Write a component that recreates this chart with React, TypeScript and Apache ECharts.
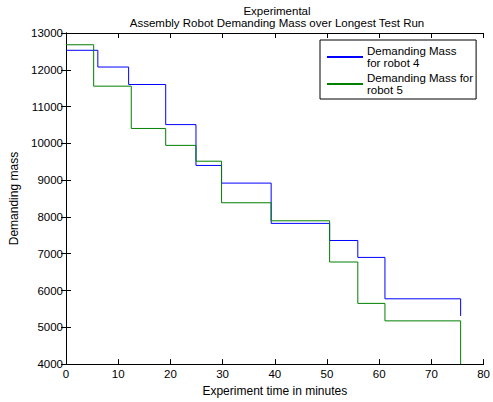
import React, { useEffect, useRef } from "react";
import * as echarts from "echarts";

const titleLines = ["Experimental", "Assembly Robot Demanding Mass over Longest Test Run"];
const xAxisName = "Experiment time in minutes";
const yAxisName = "Demanding mass";
const seriesNames = ["Demanding Mass for robot 4", "Demanding Mass for robot 5"];
const legendLabels = ["Demanding Mass\nfor robot 4", "Demanding Mass for\nrobot 5"];

const robot4Times = [0, 6.1, 12.0, 19.1, 24.9, 29.8, 39.3, 50.5, 55.9, 61.1, 75.6];
const robot4Values = [12530, 12075, 11600, 10510, 9400, 8920, 7825, 7360, 6900, 5775, 5310];
const robot5Times = [0, 5.3, 12.5, 19.1, 24.9, 29.8, 39.3, 50.5, 55.9, 61.1, 75.6];
const robot5Values = [12680, 11555, 10405, 9945, 9515, 8385, 7895, 6775, 5650, 5175, 4000];

const FONT = "Liberation Sans, Arial, Helvetica, sans-serif";

export default function App() {
  const ref = useRef<HTMLDivElement>(null);
  useEffect(() => {
    if (!ref.current) return;
    const chart = echarts.init(ref.current, null, { renderer: "svg" });
    const pts = (t: number[], v: number[]) => t.map((x, i) => [x, v[i]]);
    const tickCommon = {
      axisLine: { show: true, lineStyle: { color: "#000", width: 1 } },
      axisTick: { show: true, inside: true, length: 5, lineStyle: { color: "#000" } },
      splitLine: { show: false },
    };
    chart.setOption({
      animation: false,
      backgroundColor: "#fff",
      textStyle: { fontFamily: FONT },
      grid: { left: 66, right: 5, top: 33, bottom: 35, containLabel: false },
      graphic: [
        {
          type: "text",
          x: 277,
          y: 5,
          style: {
            text: titleLines.join("\n"),
            font: `11.5px ${FONT}`,
            lineHeight: 12,
            fill: "#000",
            textAlign: "center",
            textVerticalAlign: "top",
          },
        },
      ],
      legend: {
        data: seriesNames,
        orient: "vertical",
        left: 320,
        top: 40,
        width: 163,
        padding: [5, 3, 3, 7],
        itemGap: 3,
        itemWidth: 36,
        itemHeight: 2,
        icon: "rect",
        borderColor: "#000",
        borderWidth: 1,
        backgroundColor: "#fff",
        formatter: (name: string) => legendLabels[seriesNames.indexOf(name)],
        textStyle: { fontFamily: FONT, fontSize: 11.5, lineHeight: 12, color: "#000", padding: [0, 0, 0, -1] },
      },
      xAxis: [
        {
          type: "value",
          min: 0,
          max: 80,
          interval: 10,
          position: "bottom",
          name: xAxisName,
          nameLocation: "middle",
          nameGap: 19,
          nameTextStyle: { fontFamily: FONT, fontSize: 12, color: "#000" },
          axisLabel: { fontFamily: FONT, fontSize: 11.5, color: "#000", margin: 4, formatter: (v: number) => String(v) },
          ...tickCommon,
        },
        {
          type: "value",
          min: 0,
          max: 80,
          interval: 10,
          position: "top",
          axisLabel: { show: false },
          ...tickCommon,
        },
      ],
      yAxis: [
        {
          type: "value",
          min: 4000,
          max: 13000,
          interval: 1000,
          position: "left",
          name: yAxisName,
          nameLocation: "middle",
          nameGap: 38,
          nameTextStyle: { fontFamily: FONT, fontSize: 12, color: "#000" },
          axisLabel: { fontFamily: FONT, fontSize: 11.5, color: "#000", margin: 3, formatter: (v: number) => String(v) },
          ...tickCommon,
        },
        {
          type: "value",
          min: 4000,
          max: 13000,
          interval: 1000,
          position: "right",
          axisLabel: { show: false },
          ...tickCommon,
        },
      ],
      series: [
        {
          name: seriesNames[0],
          type: "line",
          step: "end",
          data: pts(robot4Times, robot4Values),
          symbol: "none",
          lineStyle: { color: "#0000ff", width: 1 },
          itemStyle: { color: "#0000ff" },
        },
        {
          name: seriesNames[1],
          type: "line",
          step: "end",
          data: pts(robot5Times, robot5Values),
          symbol: "none",
          lineStyle: { color: "#008000", width: 1 },
          itemStyle: { color: "#008000" },
        },
      ],
    });
    return () => chart.dispose();
  }, []);
  return <div ref={ref} style={{ width: 493, height: 402, position: "absolute", left: 0, top: 0 }} />;
}
